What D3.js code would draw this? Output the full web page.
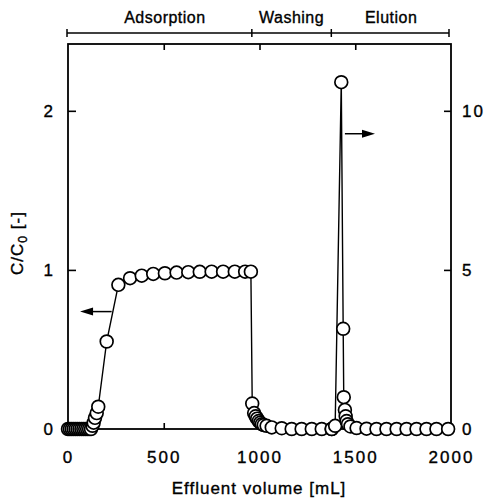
<!DOCTYPE html>
<html>
<head>
<meta charset="utf-8">
<script src="https://cdn.jsdelivr.net/npm/d3@7"></script>
<style>
  body { margin: 0; background: #fff; }
  svg text { font-family: "Liberation Sans", Arial, sans-serif; fill: #000; stroke: #000; stroke-width: 0.35px; }
</style>
</head>
<body>
<div id="chart"></div>
<script>
// adsorption + washing run (left axis, C/C0)
var adsVolume = [0, 10, 20, 30, 40, 50, 60, 70, 80, 90, 100, 110, 120,
  128, 134, 141, 150, 158, 202, 263, 324, 385, 445, 506, 567, 628, 688, 750, 810, 871, 925, 955,
  962, 972, 980, 988, 996, 1004, 1012, 1022, 1037, 1064, 1116, 1168, 1220, 1273, 1325, 1377];
var adsConc = [0, 0, 0, 0, 0, 0, 0, 0, 0, 0, 0, 0, 0,
  0.02, 0.04, 0.07, 0.10, 0.14, 0.55, 0.906, 0.948, 0.964, 0.975, 0.979, 0.983, 0.986, 0.988, 0.989, 0.989, 0.989, 0.989, 0.989,
  0.16, 0.10, 0.08, 0.065, 0.05, 0.04, 0.03, 0.025, 0.02, 0.01, 0.005, 0, 0, 0, 0, 0];

// elution run (right axis)
var eluVolume = [1377, 1395, 1427, 1437, 1440, 1446, 1450, 1455, 1462, 1475, 1507, 1559, 1611, 1663, 1716, 1768, 1820, 1872, 1924, 1985];
var eluConc = [0, 0.1, 10.9, 3.15, 1.0, 0.6, 0.4, 0.25, 0.15, 0.08, 0.03, 0.01, 0, 0, 0, 0, 0, 0, 0, 0];

var xTicks = [0, 500, 1000, 1500, 2000];
var leftTicks = [0, 1, 2];
var rightTicks = [0, 5, 10];
var phaseNames = ["Adsorption", "Washing", "Elution"];
var phaseBounds = [0, 960, 1375, 2000];

var width = 487, height = 502;
var plotL = 68, plotR = 451, plotT = 44, plotB = 429;

var svg = d3.select("#chart")
  .append("svg")
    .attr("width", width)
    .attr("height", height);

var x = d3.scaleLinear().domain([0, 2000]).range([plotL, plotR]);
var yL = d3.scaleLinear().domain([0, 2.42]).range([plotB, plotT]);
var yR = d3.scaleLinear().domain([0, 12.1]).range([plotB, plotT]);

// frame
svg.append("rect")
  .attr("x", plotL).attr("y", plotT)
  .attr("width", plotR - plotL).attr("height", plotB - plotT)
  .attr("fill", "none").attr("stroke", "#000").attr("stroke-width", 1.8);

function styleAxis(g) {
  g.select(".domain").remove();
  g.selectAll("line").attr("stroke", "#000").attr("stroke-width", 1.6);
  g.selectAll("text")
    .attr("font-size", "17px")
    .attr("letter-spacing", "2px")
    .attr("fill", "#000")
    .attr("font-family", "'Liberation Sans', Arial, sans-serif");
}

svg.append("g")
  .attr("transform", "translate(0," + plotB + ")")
  .call(d3.axisBottom(x).tickValues(xTicks).tickFormat(d3.format("d"))
    .tickSizeInner(-6).tickSizeOuter(0).tickPadding(22))
  .call(styleAxis);

svg.append("g")
  .attr("transform", "translate(0," + plotT + ")")
  .call(d3.axisTop(x).tickValues([500, 1000, 1500]).tickFormat("")
    .tickSizeInner(-6).tickSizeOuter(0))
  .call(styleAxis);

svg.append("g")
  .attr("transform", "translate(" + plotL + ",0)")
  .call(d3.axisLeft(yL).tickValues(leftTicks).tickFormat(d3.format("d"))
    .tickSizeInner(-8).tickSizeOuter(0).tickPadding(13))
  .call(styleAxis);

svg.append("g")
  .attr("transform", "translate(" + plotR + ",0)")
  .call(d3.axisRight(yR).tickValues(rightTicks).tickFormat(d3.format("d"))
    .tickSizeInner(-7).tickSizeOuter(0).tickPadding(11))
  .call(styleAxis);

// phase bar on top
var barY = 33;
var bar = svg.append("g").attr("stroke", "#000").attr("stroke-width", 1.5);
bar.append("line")
  .attr("x1", x(phaseBounds[0]) - 1).attr("x2", x(phaseBounds[3]) - 2)
  .attr("y1", barY).attr("y2", barY);
bar.selectAll(".ptick")
  .data(phaseBounds)
  .enter()
  .append("line")
  .attr("x1", function(d, i) { return x(d) + (i == 0 ? -1 : i == 3 ? -2 : 0); })
  .attr("x2", function(d, i) { return x(d) + (i == 0 ? -1 : i == 3 ? -2 : 0); })
  .attr("y1", barY - 4).attr("y2", barY + 4);

svg.selectAll(".phase")
  .data(phaseNames)
  .enter()
  .append("text")
  .attr("x", function(d, i) { return x((phaseBounds[i] + phaseBounds[i + 1]) / 2) + (i == 0 ? 5 : 0); })
  .attr("y", 23)
  .attr("text-anchor", "middle")
  .attr("font-size", "16px")
  .attr("letter-spacing", "0.5px")
  .text(function(d) { return d; });

// lines
var adsData = adsVolume.map(function(v, i) { return [v, adsConc[i]]; });
var eluData = eluVolume.map(function(v, i) { return [v, eluConc[i]]; });

svg.append("path")
  .datum(adsData)
  .attr("fill", "none").attr("stroke", "#000").attr("stroke-width", 1.4)
  .attr("d", d3.line().x(function(d) { return x(d[0]); }).y(function(d) { return yL(d[1]); }));

svg.append("path")
  .datum(eluData)
  .attr("fill", "none").attr("stroke", "#000").attr("stroke-width", 1.4)
  .attr("d", d3.line().x(function(d) { return x(d[0]); }).y(function(d) { return yR(d[1]); }));

svg.selectAll(".ads")
  .data(adsData)
  .enter()
  .append("circle")
  .attr("cx", function(d) { return x(d[0]); })
  .attr("cy", function(d) { return yL(d[1]); })
  .attr("r", 6.4)
  .attr("fill", "#fff").attr("stroke", "#000").attr("stroke-width", 1.7);

svg.selectAll(".elu")
  .data(eluData)
  .enter()
  .append("circle")
  .attr("cx", function(d) { return x(d[0]); })
  .attr("cy", function(d) { return yR(d[1]); })
  .attr("r", 6.4)
  .attr("fill", "#fff").attr("stroke", "#000").attr("stroke-width", 1.7);

// axis arrows
function arrow(x0, x1, y) {
  var dir = x1 > x0 ? 1 : -1;
  svg.append("line")
    .attr("x1", x0).attr("x2", x1 - dir * 8).attr("y1", y).attr("y2", y)
    .attr("stroke", "#000").attr("stroke-width", 1.5);
  svg.append("path")
    .attr("d", "M" + x1 + "," + y + "L" + (x1 - dir * 13) + "," + (y - 4) + "L" + (x1 - dir * 13) + "," + (y + 4) + "Z")
    .attr("fill", "#000");
}
arrow(x(228), x(63), yL(0.738));
arrow(x(1446), x(1603), yR(9.28));

// axis titles
svg.append("text")
  .attr("x", 259).attr("y", 494)
  .attr("text-anchor", "middle")
  .attr("font-size", "17px")
  .attr("letter-spacing", "1px")
  .text("Effluent volume [mL]");

var yt = svg.append("text")
  .attr("transform", "translate(23,243) rotate(-90)")
  .attr("text-anchor", "middle")
  .attr("font-size", "17px")
  .attr("letter-spacing", "1px");
yt.append("tspan").text("C/C");
yt.append("tspan").attr("font-size", "12px").attr("dy", 4).text("0");
yt.append("tspan").attr("dy", -4).text("  [-]");
</script>
</body>
</html>
